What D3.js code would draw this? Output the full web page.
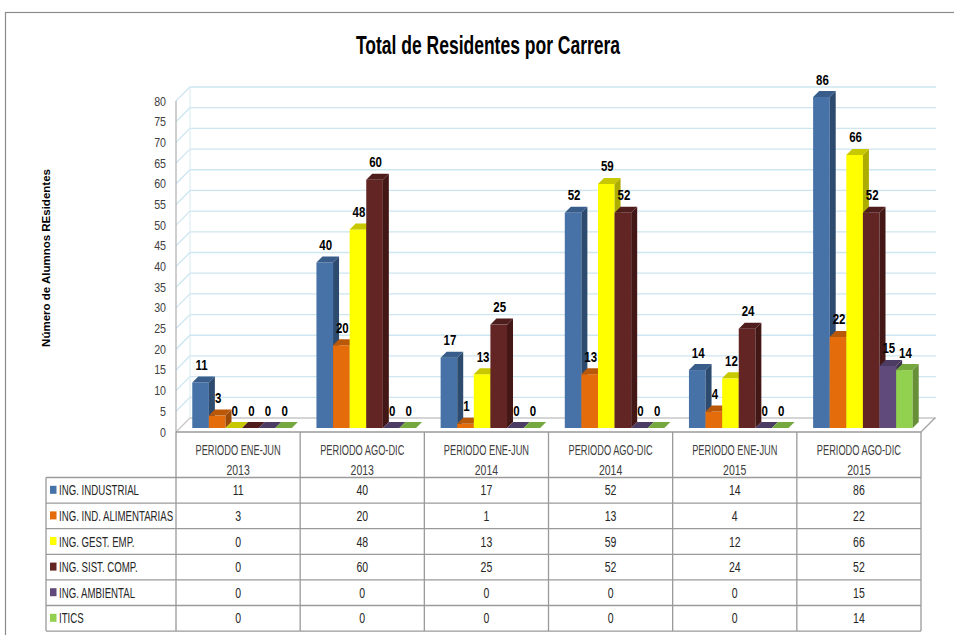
<!DOCTYPE html>
<html><head><meta charset="utf-8">
<script src="https://cdn.jsdelivr.net/npm/d3@7"></script>
<style>
html,body{margin:0;padding:0;background:#fff;}
svg{display:block;}
</style></head>
<body>
<svg id="chart" width="954" height="635"></svg>
<script>
const categories = [["PERIODO ENE-JUN","2013"],["PERIODO AGO-DIC","2013"],["PERIODO ENE-JUN","2014"],["PERIODO AGO-DIC","2014"],["PERIODO ENE-JUN","2015"],["PERIODO AGO-DIC","2015"]];
const seriesNames = ["ING. INDUSTRIAL","ING. IND. ALIMENTARIAS","ING. GEST. EMP.","ING. SIST. COMP.","ING. AMBIENTAL","ITICS"];
const industrial   = [11,40,17,52,14,86];
const alimentarias = [3,20,1,13,4,22];
const gestEmp      = [0,48,13,59,12,66];
const sistComp     = [0,60,25,52,24,52];
const ambiental    = [0,0,0,0,0,15];
const itics        = [0,0,0,0,0,14];
const seriesValues = [industrial, alimentarias, gestEmp, sistComp, ambiental, itics];
const yTicks = d3.range(0, 81, 5);
const colors = [
  {front:"#4672a8", top:"#385d8b", side:"#2d4a6f"},
  {front:"#e46c0a", top:"#b95809", side:"#9c4a07"},
  {front:"#ffff00", top:"#c8c800", side:"#adad00"},
  {front:"#632523", top:"#4f1d1c", side:"#421716"},
  {front:"#604a7b", top:"#4c3b62", side:"#3f3151"},
  {front:"#92d050", top:"#76a840", side:"#668f37"}
];

const svg = d3.select("#chart");
const FONT = '"Liberation Sans",Arial,sans-serif';
function narrow(sel, f) {
  sel.each(function() {
    const w = this.getComputedTextLength();
    d3.select(this).attr("textLength", w * f).attr("lengthAdjust", "spacingAndGlyphs");
  });
  return sel;
}

svg.append("rect").attr("x",5.5).attr("y",12.5).attr("width",960).attr("height",640)
  .attr("fill","none").attr("stroke","#8c8c8c").attr("stroke-width",1.2);

narrow(svg.append("text").attr("x",488).attr("y",54).attr("text-anchor","middle")
  .attr("font-family",FONT).attr("font-weight","bold").attr("font-size",25)
  .attr("fill","#000").text("Total de Residentes por Carrera"), 0.7);

const x0 = 176, x1 = 921, yBase = 432, yTop = 101;
const WD = 14;
const x = d3.scaleBand().domain(d3.range(categories.length)).range([x0, x1]);
const y = d3.scaleLinear().domain([0,80]).range([yBase, yTop]).clamp(true);
const xs = d3.scaleBand().domain(d3.range(seriesNames.length)).range([0, x.bandwidth()]).paddingOuter(0.74);
const bw = xs.bandwidth();
const shift = 4, bd = 6;

const grid = svg.append("g");
yTicks.forEach(t => {
  const yy = y(t);
  grid.append("path").attr("d",`M${x0},${yy}L${x0+WD},${yy-WD}L${x1+WD+1},${yy-WD}`)
    .attr("fill","none").attr("stroke", t===0 ? "#c8c8c8" : "#cde6f0").attr("stroke-width",1.3);
});
grid.append("line").attr("x1",x0+WD).attr("x2",x0+WD).attr("y1",y(80)-WD).attr("y2",yBase-WD)
  .attr("stroke","#d6ebf3").attr("stroke-width",1);
grid.append("line").attr("x1",x1).attr("y1",yBase).attr("x2",x1+WD).attr("y2",yBase-WD)
  .attr("stroke","#a0a0a0").attr("stroke-width",1.3);
svg.append("line").attr("x1",x0).attr("x2",x0).attr("y1",y(80)).attr("y2",yBase)
  .attr("stroke","#b4b4b4").attr("stroke-width",1.3);

narrow(svg.append("g").selectAll("text").data(yTicks).join("text")
  .attr("x",166).attr("y",d=>y(d)+4.5).attr("text-anchor","end")
  .attr("font-family",FONT).attr("font-size",13).attr("fill","#404040").text(d=>d), 0.82);

svg.append("text").attr("transform","translate(50,258) rotate(-90)").attr("text-anchor","middle")
  .attr("font-family",FONT).attr("font-weight","bold").attr("font-size",11.5)
  .attr("fill","#000").text("Número de Alumnos REsidentes");

const bars = svg.append("g");
const labels = svg.append("g");
categories.forEach((c, ci) => {
  seriesValues.forEach((vals, si) => {
    const v = vals[ci];
    const col = colors[si];
    const bx = x(ci) + xs(si) + shift;
    const by0 = yBase - shift;
    const byt = y(v) - shift;
    const g = bars.append("g");
    if (v > 0) {
      g.append("rect").attr("x",bx).attr("y",byt).attr("width",bw).attr("height",by0-byt).attr("fill",col.front);
      g.append("path").attr("d",`M${bx+bw},${byt}L${bx+bw+bd},${byt-bd}L${bx+bw+bd},${by0-bd}L${bx+bw},${by0}Z`).attr("fill",col.side);
    }
    g.append("path").attr("d",`M${bx},${byt}L${bx+bd},${byt-bd}L${bx+bw+bd},${byt-bd}L${bx+bw},${byt}Z`).attr("fill",col.top);
    narrow(labels.append("text").attr("x",bx+bw/2+1).attr("y",byt-12.5)
      .attr("text-anchor","middle").attr("font-family",FONT).attr("font-weight","bold")
      .attr("font-size",15.5).attr("fill","#000").text(v), 0.74);
  });
});

const tbl = svg.append("g");
const rowTop = 477.5, rowH = 25.6, legL = 46;
const lineCol = "#9a9a9a";
const nRows = seriesNames.length;
const tBottom = rowTop + nRows*rowH;
tbl.append("line").attr("x1",x0).attr("x2",x1).attr("y1",yBase).attr("y2",yBase).attr("stroke",lineCol).attr("stroke-width",1.3);
for (let r = 0; r <= nRows; r++) {
  const yy = rowTop + r*rowH;
  tbl.append("line").attr("x1",legL).attr("x2",x1).attr("y1",yy).attr("y2",yy).attr("stroke",lineCol).attr("stroke-width",1.3);
}
tbl.append("line").attr("x1",legL).attr("x2",legL).attr("y1",rowTop).attr("y2",tBottom).attr("stroke",lineCol).attr("stroke-width",1.3);
d3.range(categories.length+1).forEach(i => {
  const xx = i < categories.length ? x(i) : x1;
  tbl.append("line").attr("x1",xx).attr("x2",xx).attr("y1",yBase).attr("y2",tBottom).attr("stroke",lineCol).attr("stroke-width",1.3);
});
categories.forEach((c, ci) => {
  const cx = x(ci) + x.bandwidth()/2;
  narrow(tbl.append("text").attr("x",cx).attr("y",455).attr("text-anchor","middle")
    .attr("font-family",FONT).attr("font-size",14).attr("fill","#404040").text(c[0]), 0.66);
  narrow(tbl.append("text").attr("x",cx).attr("y",474.5).attr("text-anchor","middle")
    .attr("font-family",FONT).attr("font-size",14).attr("fill","#404040").text(c[1]), 0.75);
});
seriesNames.forEach((name, si) => {
  const cy = rowTop + si*rowH + rowH/2;
  tbl.append("rect").attr("x",50).attr("y",cy-4.5).attr("width",6.5).attr("height",8).attr("fill",colors[si].front);
  narrow(tbl.append("text").attr("x",59).attr("y",cy+5).attr("font-family",FONT).attr("font-size",14)
    .attr("fill","#262626").text(name), 0.69);
  seriesValues[si].forEach((v, ci) => {
    narrow(tbl.append("text").attr("x",x(ci)+x.bandwidth()/2).attr("y",cy+5).attr("text-anchor","middle")
      .attr("font-family",FONT).attr("font-size",14).attr("fill","#262626").text(v), 0.75);
  });
});
</script>
</body></html>
